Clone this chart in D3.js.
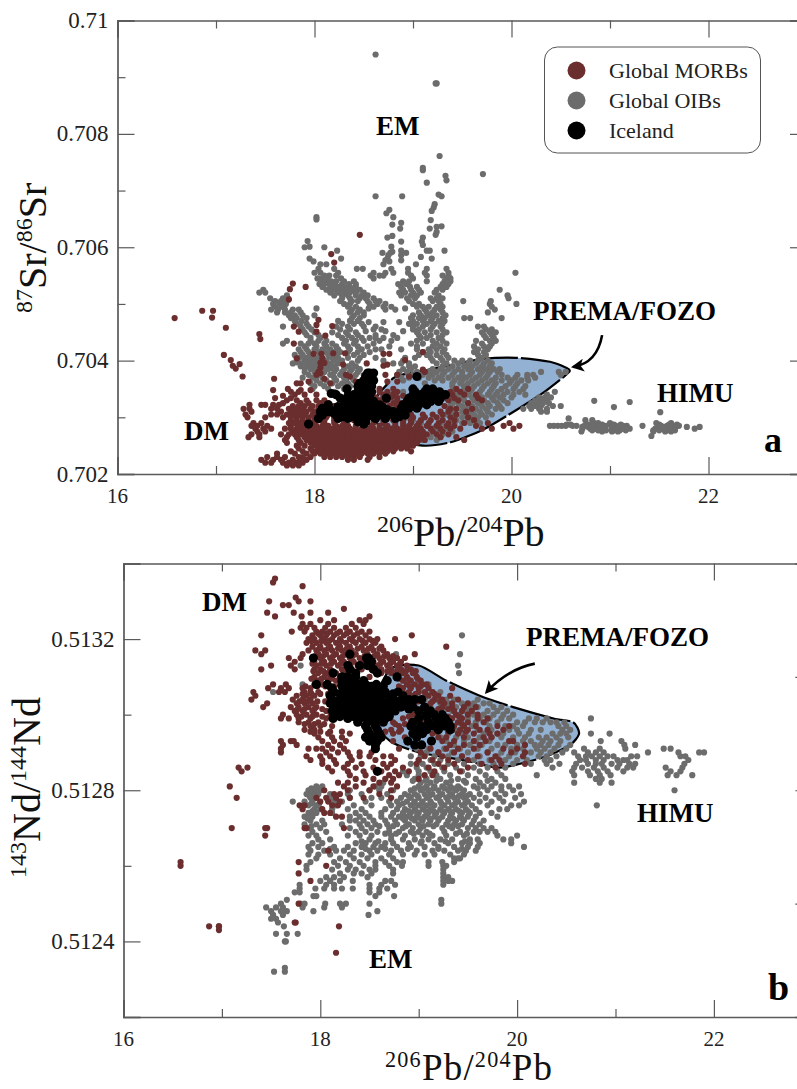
<!DOCTYPE html>
<html>
<head>
<meta charset="utf-8">
<script src="https://cdn.jsdelivr.net/npm/d3@7"></script>
<style>
  html, body { margin: 0; padding: 0; background: #fff; }
  svg { display: block; font-family: "Liberation Serif", serif; }
  .tag { font-weight: bold; fill: #000; }
</style>
</head>
<body>
<svg id="chart" width="797" height="1089"></svg>
<script>
// values, one row per y value: [y, x, x, x ...]
const oibSr = [
[.7094,18.62],[.70889,19.23,19.24],[.70761,19.27],[.7074,19.1],[.70736,19.1],[.70729,19.71],[.70726,19.33],[.70718,19.34],[.70714,19.14],
[.70693,19.26],[.7069,18.62,18.89,19.29],[.70676,19.22],[.7067,19.21],[.70666,18.76],[.70664,19.19],[.7066,18.73],[.70653,18.8,18.02],[.70649,18.02],[.70648,19.18],[.70643,18.88],[.7064,18.79],
[.70637,19.29],[.70636,19.24],[.70633,18.87,19.17],[.70627,19.24],[.70622,19.23],[.7062,18.79],[.70617,18.74,19.1],[.70611,17.93],[.7061,18.88,19.09],[.70604,19.1],
[.70601,18.78,17.95],[.706,17.9,18.1],[.70594,18.23,18.88,19.14,19.17,19.32],[.70592,18.79],[.7059,18.69,18.93,18.77],[.70586,18.88,18.75],[.70583,19.08],[.7058,17.95,18.27,19.19,18.74],[.70577,18.88,18.72],[.70575,17.99,18.76],[.7057,18.06,18.12,19.03,18.7],
[.70562,18.04,18.2,18.43,18.49,18.78,18.95,19.14,19.34],
[.70555,18,18.06,18.24,18.6,18.72,18.8,18.95,19.12,19.36,20.04],
[.7055,18.1,18.15,18.22,18.57,18.66,18.7,18.98,19.14,19.3,19.36],
[.70545,18.03,18.08,18.13,18.27,18.6,19,19.34,19.38],
[.7054,18.07,18.12,18.17,18.22,18.3,18.4,18.9,18.96,19.14,19.32,19.38],
[.70535,18.05,18.1,18.15,18.2,18.28,18.35,18.42,18.85,18.93,19.3,19.36],
[.7053,18.08,18.16,18.24,18.3,18.36,18.42,18.88,18.97,19.04,19.28,19.34],
[.70525,17.48,18.12,18.2,18.28,18.34,18.4,18.46,18.9,18.98,19.06,19.24,19.3,19.88],
[.7052,17.44,17.5,18.16,18.24,18.3,18.36,18.42,18.5,18.86,18.92,19,19.08,19.22],
[.70515,17.72,18.2,18.28,18.34,18.42,18.48,18.54,18.88,18.98,19.04,19.26,19.96],
[.7051,17.55,17.68,17.73,18.28,18.36,18.46,18.52,18.6,18.94,19.02,19.18,19.24,19.3,19.97],
[.70505,17.6,17.66,17.72,18.26,18.38,18.44,18.54,18.62,18.66,18.96,19.2,19.26,19.79,19.51],
[.705,17.58,17.65,17.71,18.3,18.36,18.56,18.64,18.72,19,19.06,19.28,19.78,20.05],
[.70495,17.6,17.67,18.34,18.42,18.6,18.7,18.78,19.04,19.1,19.16,19.24,19.3,19.8],
[.7049,17.56,17.63,17.7,17.78,17.84,18.38,18.46,18.72,18.82,19.12,19.22,19.28,19.83],
[.70485,17.62,17.7,17.76,17.86,18.36,18.44,18.5,19.06,19.14,19.2,19.3,19.76],
[.7048,17.74,17.8,17.88,18,18.4,18.5,19,19.08,19.16,19.24,19.33],
[.70475,17.76,17.82,17.92,18.38,18.46,18.98,19.06,19.12,19.2,19.3,19.52,19.58,19.9],
[.7047,17.8,17.87,18.24,18.36,18.44,19,19.1,19.18,19.26,19.32],
[.70465,17.82,17.92,18.28,18.4,18.48,18.96,19.04,19.14,19.22,19.3],
[.7046,17.68,17.86,17.94,18.22,18.34,18.5,18.62,19,19.1,19.2,19.28,19.66,19.72],
[.70455,17.88,17.97,18.26,18.36,18.6,18.68,19,19.06,19.18,19.3,19.74,19.8],
[.7045,17.9,18,18.18,18.32,18.42,19.04,19.12,19.24,19.34,19.7,19.78,19.84],
[.70445,17.92,18.04,18.24,18.34,18.44,18.62,18.8,19.06,19.18,19.3,19.72,19.8],
[.7044,17.96,18.06,18.28,18.38,18.48,18.56,18.62,18.7,18.84,19.08,19.14,19.26,19.74,19.82],
[.70435,17.72,17.96,18.04,18.12,18.32,18.42,18.5,18.66,18.78,19.04,19.2,19.3,19.64,19.78,19.84],
[.7043,17.68,17.86,17.94,18,18.1,18.18,18.3,18.4,18.6,18.98,19.1,19.24,19.34,19.7,19.8],
[.70425,17.9,18.02,18.12,18.22,18.34,18.44,18.54,18.76,19.04,19.2,19.28,19.62,19.72,19.78],
[.7042,17.84,17.92,18,18.08,18.16,18.24,18.36,18.48,18.62,18.68,18.88,19.04,19.16,19.24,19.32,19.66,19.76],
[.70415,17.86,17.94,18.04,18.12,18.2,18.26,18.34,18.44,18.56,19.1,19.18,19.3,19.62,19.72],
[.7041,17.8,17.88,17.96,18.06,18.14,18.22,18.4,18.5,19.06,19.14,19.24,19.34,19.66,19.74],
[.70405,17.84,17.92,18,18.08,18.18,18.24,18.34,18.46,18.62,18.92,19.02,19.18,19.28,19.36,19.7],
[.704,17.82,17.9,17.96,18.04,18.12,18.2,18.28,18.44,18.7,18.9,19.2,19.3,19.42,19.5,19.58,19.66,19.76],
[.70395,17.78,17.86,17.94,18,18.08,18.16,18.24,18.38,18.8,18.88,18.96,19.24,19.34,19.46,19.56,19.64,19.72,19.8],
[.7039,17.86,17.92,17.98,18.06,18.14,18.2,18.34,18.42,18.96,19.02,19.3,19.4,19.52,19.6,19.7,19.78],
[.70385,17.96,18.04,18.14,18.22,18.3,18.38,18.46,18.9,18.98,19.2,19.28,19.36,19.46,19.56,19.66,19.74,19.82,19.88],
[.7038,17.9,18,18.1,18.2,18.28,18.36,18.44,18.86,18.94,19.04,19.16,19.24,19.32,19.42,19.5,19.6,19.7,19.78,19.86,20.3,20.55,20.48],
[.70375,17.94,18.04,18.16,18.26,18.34,18.42,18.5,18.84,19,19.1,19.2,19.3,19.4,19.5,19.58,19.68,19.76,19.9,20.06,20.16,20.22,20.5],
[.7037,17.88,17.98,18.08,18.2,18.3,18.38,18.88,18.96,19.06,19.16,19.26,19.36,19.46,19.54,19.64,19.74,19.84,19.96,20.04,20.16,20.24],
[.70365,18.02,18.12,18.22,18.32,18.4,18.9,19.22,19.3,19.42,19.5,19.6,19.7,19.8,19.9,20,20.1,20.17],
[.7036,17.96,18.06,18.18,18.28,18.34,19.12,19.4,19.48,19.56,19.66,19.76,19.84,19.98,20.06],
[.70355,18,18.1,18.24,18.36,19.4,19.52,19.62,19.72,19.82,19.94,20.04,20.14],
[.7035,17.98,18.14,18.3,19.52,19.6,19.7,19.8,19.9,20.02,20.12],
[.70345,18.2,18.34,18.9,19.42,19.5,19.58,19.68,19.78,19.86,19.96,20.08,20.44],
[.7034,18.36,18.78,19.36,19.46,19.56,19.66,19.76,19.84,19.92,20.02,20.14,20.36],
[.70335,18.84,19.4,19.5,19.6,19.7,19.8,19.88,20,20.28,20.34,20.4],
[.7033,19.42,19.52,19.62,19.72,19.82,19.92,20.24,20.3,20.36],
[.70325,19,19.4,19.46,19.56,19.66,19.76,19.86,19.96,20.2,20.26,20.32,20.38],
[.7032,18.8,19.38,19.5,19.6,19.7,19.78,19.88,20.18,20.24,20.3,20.42,20.5],
[.70329,20.84],[.70327,21.2],[.70318,21.04],[.70309,21.51],
[.70315,18.9,19.36,19.44,19.54,19.64,19.74,19.84,19.9,20.12,20.2,20.28,20.36],
[.7031,18.7,19.4,19.5,19.58,19.68,19.76,20.3,20.36],
[.70305,18.86,19.34,19.44,19.54,19.62,19.7,19.8],
[.703,18.8,18.94,19.4,19.5,19.6,19.66,19.74],[.70295,19,19.3,19.44,19.56,19.64,20.75,20.82],
[.70298,20.58],[.7029,19.08,19.28,19.42,19.5,19.58,19.68,20.84,20.88,21.0,21.47,21.62],
[.70287,20.56,20.6,20.78,20.86,20.92,21.02,21.04,21.11,21.5,21.6,21.68],
[.70285,20.39,20.43,20.47,20.51,20.55,20.62,20.66,20.74,20.8,20.84,20.9,20.96,21.06,21.13,21.17,21.33,21.52,21.58,21.64,21.7],
[.70283,20.72,20.78,20.88,20.94,21.02,21.1,21.5,21.56,21.62,21.78,21.91],
[.7028,20.72,20.8,20.86,20.92,21.02,21.08,21.14,21.2,21.46,21.54,21.6,21.66,21.86],
[.70277,20.82,20.88,20.96,21.04,21.1,21.16,21.5,21.58,21.66,21.44],
[.70275,20.71,20.92,21.02,21.08,21.44,21.56,21.62],[.70267,21.42],
[.70285,19.26,19.36],[.7028,19.2,19.34],[.70275,19.24,19.4],[.7027,19.12,19.3],[.70265,19.18,19.04],[.7026,19.1,19.24],[.70255,19.0,18.92],[.7025,18.84],
[.70407,17.88,17.97,18.05,18.16],[.70397,17.82,17.9,18.03,18.12],[.70387,17.9,18.01,18.1,18.18],[.70492,18.02,18.55,18.92],[.70468,18.55,18.7,18.86],[.70452,18.52,18.72,18.9]
];
const morbSr = [
[.70622,18.46],[.70588,18.17],[.70573,18.2],[.70536,17.78],[.7053,17.91],[.70526,17.75],[.70508,17.74],
[.70488,16.86,16.97],[.70476,16.96],[.70475,16.58],[.70472,18.04],[.70463,18.02],[.70461,18.18],[.7046,17.79],[.70458,17.1],[.70451,17.84,18.02],[.70447,17.44],[.70444,18.11],[.70438,17.45],
[.7043,17.79],[.70415,19.1],[.70413,18.31,18.19],[.70412,17.99,18.07,18.7,18.76],[.7041,17.08],[.70404,17.82,18.08],[.70401,17.15,18.92],[.70396,18.06,18.1],[.70395,18.53],[.70394,17.24],[.70393,18.29,18.74],[.70391,17.17,18.7],[.70388,18.06],[.70386,17.2],[.70384,19.1],[.7038,19.12,18.04],
[.70378,18.06],[.70375,18.02,18.32,18.72,18.84],[.70372,17.27,18.36,18.96],[.70368,17.59,18.1],[.70363,17.94,18.42,18.74,18.84],[.7036,17.82,18.16,17.86],[.7035,17.73,18.66,18.8,19.44,19.56],[.70348,17.58,17.86,17.96],
[.70345,17.76,17.84,18.84,19.38,19.48],[.7034,17.8,17.9,18.02,19.4,19.52,19.64],[.70338,17.68,18.9],[.70334,17.6,17.76,18.84,19.34,19.42,19.66],
[.7033,17.72,17.82,17.92,18.02,18.94,19.36,19.46,19.7],[.70325,17.68,17.86,17.94,19.56],[.70322,17.34,17.46,17.5,17.58,17.64],
[.7032,17.78,17.84,17.9,17.98,18.04,19.04,19.32],[.70315,17.28,17.34,17.56,17.62,17.74,17.82,17.88,17.96,19.38,19.44,19.6],[.7031,17.36,17.66,17.76,17.8,17.86,17.92,18.0,19.28,19.36,19.54],
[.70305,17.3,17.56,17.62,17.72,17.78,17.84,17.9,17.98,18.04,19.2,19.3,19.44],[.703,17.32,17.5,17.68,17.76,17.82,17.88,17.94,18,18.06,18.9,19,19.12,19.24,19.38,19.56],
[.70295,17.76,17.82,17.88,17.94,18,18.2,18.9,18.98,19.08,19.18,19.3,19.42,19.62],
[.7029,17.38,17.46,17.74,17.8,17.86,17.92,18,18.1,18.2,18.3,18.44,18.6,18.7,18.82,18.9,18.98,19.06,19.16,19.26,19.36,19.52,19.76,19.98],
[.70285,17.36,17.42,17.52,17.76,17.84,17.9,17.96,18.02,18.08,18.14,18.22,18.28,18.34,18.42,18.5,18.58,18.66,18.74,18.82,18.9,18.96,19.04,19.14,19.24,19.34,19.42,19.64,19.92,20.08],
[.7028,17.4,17.48,17.56,17.7,17.76,17.82,17.88,17.94,18,18.06,18.12,18.18,18.24,18.3,18.36,18.42,18.48,18.54,18.6,18.66,18.72,18.78,18.84,18.9,18.96,19.02,19.08,19.18,19.28,19.38,19.48,19.7,19.8,20.02],
[.70275,17.42,17.5,17.78,17.84,17.9,17.96,18.02,18.08,18.14,18.2,18.26,18.32,18.38,18.44,18.5,18.56,18.62,18.68,18.74,18.8,18.86,18.92,18.98,19.04,19.1,19.2,19.3],
[.7027,17.36,17.44,17.66,17.74,17.8,17.86,17.92,17.98,18.04,18.1,18.16,18.22,18.28,18.34,18.4,18.46,18.52,18.58,18.64,18.7,18.76,18.82,18.88,18.94,19,19.06,19.14,19.24,19.36],
[.70265,17.33,17.44,17.72,17.82,17.9,17.96,18.02,18.08,18.14,18.2,18.26,18.32,18.38,18.44,18.5,18.56,18.62,18.68,18.74,18.8,18.86,18.92,18.98,19.04,19.1,19.28,19.44],
[.7026,17.7,17.84,17.92,17.98,18.04,18.1,18.16,18.22,18.28,18.34,18.4,18.46,18.52,18.58,18.64,18.7,18.76,18.82,18.88,18.94,19,19.06,19.12,19.52],
[.70255,17.72,17.86,17.96,18.02,18.08,18.14,18.2,18.26,18.32,18.38,18.44,18.5,18.56,18.62,18.68,18.74,18.8,18.86,18.92,18.98,19.04],
[.7025,17.82,17.9,18,18.06,18.12,18.18,18.24,18.3,18.36,18.42,18.48,18.54,18.6,18.66,18.72,18.78,18.84,18.9,18.96,19],
[.70245,17.84,17.96,18.04,18.1,18.16,18.22,18.28,18.34,18.4,18.46,18.52,18.58,18.64,18.7,18.76,18.82,18.88,18.94],
[.7024,17.76,17.88,17.98,18.02,18.08,18.14,18.2,18.26,18.32,18.38,18.44,18.5,18.56,18.62,18.68,18.74,18.8,18.98],
[.70236,17.62,17.8,17.92,18.0,18.06,18.12,18.18,18.24,18.3,18.36,18.42,18.48,18.54,18.6,18.66,18.72],
[.7023,17.52,17.62,17.7,17.84,17.88,17.96,18.1,18.16,18.22,18.28,18.34,18.4,18.46,18.56,18.66],
[.70225,17.46,17.58,17.66,17.78,17.86,17.92,18.34,18.4,18.54],[.7022,17.5,17.56,17.68,17.74,17.82,17.88],[.70215,17.72,17.78,17.84],
[.70345,18.66,18.74],[.7034,18.7,18.8],[.70335,18.62,18.7,18.78],[.7033,18.1,18.66,18.74,18.84],[.70325,18.06,18.14,18.7,18.8,18.88],[.7032,18.1,18.2,18.7,18.76,18.84],[.70315,18.04,18.22,18.76],[.7031,18.06,18.2,18.54],[.70305,18.14,18.5,18.98,19.1],[.703,18.12,18.2,18.6,18.7,18.8],[.70295,18.06,18.1,18.3,18.4,18.5,18.6,18.7,18.8]
];
const iceSr = [
[.70378,18.56,18.54,18.6],[.70372,18.52,18.58,19.04],[.70365,18.5,18.56,18.6],[.7036,18.46,18.52,18.58],[.70355,18.5,18.44,18.58],
[.7035,18.33,18.46,18.52,19,19.14,19.2],[.70345,18.44,18.5,18.58,19.02,19.12,19.2,19.27],[.70342,18.17],
[.7034,18.22,18.4,18.46,18.54,19,19.08,19.16,19.24,19.33],[.70334,18.26,18.38,18.44,18.52,18.73,18.96,19.04,19.12,19.2,19.28],
[.70328,18.32,18.4,18.48,18.6,18.94,19.02,19.1,19.18,19.26],[.70322,18.14,18.3,18.38,18.46,18.54,18.66,18.9,18.98,19.06,19.14],
[.70316,18.08,18.12,18.28,18.36,18.44,18.52,18.62,18.7,18.88,18.96,19.04],[.7031,18.06,18.14,18.26,18.34,18.42,18.62,18.7,18.8,18.88],
[.70304,18.08,18.22,18.3,18.4,18.56,18.66,18.74,18.82,18.92],[.70298,18.04,18.24,18.34,18.44,18.52,18.62,18.72,18.82],[.70292,18.44,18.52],[.70288,17.94,18.5],
[.70338,18.34,18.48,18.56],[.70325,18.36,18.44,18.52,18.6],[.70319,18.24,18.34,18.42,18.5,18.58,18.68],[.70313,18.16,18.24,18.32,18.4,18.48,18.56,18.66,18.74],[.70307,18.2,18.3,18.38,18.46,18.6,18.7,18.78],[.70301,18.3,18.4,18.5,18.6,18.72,18.86]
];
const oibNd = [
[.51321,19.44],[.51316,19.42,18.77],[.51315,18.71],[.51313,19.4,17.8],[.51312,18.79],[.51311,19.41],[.51306,17.52],[.51308,17.82],
[.51308,19.0,19.1],[.51306,19.14,19.22],[.51304,19.06,19.18,19.28,19.36,19.6],[.51303,19.22,19.3,19.44,19.56,19.66,19.72],[.51302,19.12,19.26,19.38,19.52,19.6,19.76,19.84],
[.51301,19.16,19.34,19.48,19.7,19.8,19.9],[.513,19.06,19.24,19.42,19.56,19.66,19.76,19.86,19.96],[.51299,19.12,19.32,19.5,19.62,19.72,19.84,19.92,20.12,20.2,20.3,20.75],
[.51298,19.2,19.4,19.58,19.68,19.8,20,20.08,20.18,20.26,20.34,20.4,20.48],[.51297,19.1,19.28,19.46,19.54,19.72,19.88,19.96,20.06,20.42,20.5],
[.51296,19.18,19.36,19.6,19.74,19.92,20,20.14,20.24,20.46,20.54],[.51295,19.3,19.44,19.66,19.8,19.86,20.02,20.12,20.36,20.44,20.5,20.75,20.94],
[.51294,19.22,19.38,19.5,19.62,19.74,19.84,19.96,20.08,20.22,20.3,20.4,20.52],[.51293,19.12,19.28,19.46,19.58,19.72,19.92,20.06,20.14,20.26,20.34,20.44,20.85,21.06],
[.51292,19.36,19.52,19.64,19.8,19.88,20,20.18,20.24,20.32,20.42,20.54,21.09,21.2],[.51291,18.98,19.1,19.26,19.42,19.6,19.74,19.94,20.06,20.2,20.28,20.38,20.5,20.84,20.68,21.1,21.49,21.56],
[.5129,19.08,19.2,19.34,19.5,19.7,19.84,19.98,20.14,20.24,20.34,20.46,20.58,20.72,20.8,20.88,21.33,21.64,21.9,21.85],
[.51289,18.92,19.02,19.16,19.3,19.44,19.62,19.8,19.92,20.06,20.22,20.3,20.4,20.62,20.7,20.76,20.84,20.92,20.98,21.16,21.22,21.66,21.71],
[.51288,19,19.12,19.22,19.4,19.56,19.72,19.88,20,20.1,20.28,20.34,20.64,20.7,20.8,20.88,21.02,21.08,21.12,21.74],
[.51287,18.92,19.04,19.16,19.3,19.46,19.62,19.76,19.96,20.14,20.3,20.43,20.6,20.72,20.8,20.86,20.96,21.04,21.14,21.2,21.7],
[.51286,18.98,19.08,19.24,19.38,19.56,19.7,19.88,20.36,20.58,20.66,20.78,20.88,21.02,21.12,21.18,21.51,21.68],
[.51285,18.84,19,19.12,19.26,19.44,19.62,19.8,20.56,20.72,20.82,20.92,21.08,21.56,21.66],
[.51284,18.88,19,19.18,19.32,19.5,19.68,19.84,20.2,20.58,20.74,20.84,20.95,21.53,21.62,21.78],
[.51283,18.96,19.08,19.22,19.4,19.58,19.74,19.88,20.8,20.86],[.51282,18.64,19.02,19.12,19.28,19.48,19.62,19.78,20.58,20.84,20.96],[.5128,21.6],
[.51281,17.96,18.02,18.56,18.62,19.0,19.08,19.16,19.24,19.32,19.4,19.56,19.66,19.74,19.84,19.92,20.02],[.5128,17.88,17.94,18.0,18.3,18.5,18.6,18.74,18.92,19.02,19.1,19.2,19.3,19.38,19.46,19.7,19.84,19.96],
[.51279,17.86,17.92,17.98,18.1,18.28,18.42,18.68,18.86,18.96,19.06,19.14,19.24,19.34,19.44,19.52,19.62,19.78,19.88,20.04],[.51278,17.9,17.96,18.12,18.3,18.52,18.62,18.82,18.92,19,19.08,19.18,19.28,19.36,19.46,19.56,19.68,19.82,19.98],
[.51277,17.72,17.84,17.92,18.14,18.22,18.46,18.7,18.78,18.88,18.96,19.04,19.12,19.22,19.3,19.4,19.5,19.62,19.74,19.86,20.07],[.51276,17.88,17.96,18.16,18.34,18.52,18.72,18.8,18.92,19,19.08,19.16,19.26,19.34,19.44,19.54,19.7,19.94,20.02,20.81],
[.51275,17.94,18.0,18.12,18.28,18.42,18.66,18.78,18.86,18.96,19.04,19.12,19.22,19.3,19.38,19.48,19.58,19.82,19.9],[.51274,17.88,17.96,18.12,18.36,18.46,18.62,18.74,18.84,18.92,19,19.1,19.18,19.26,19.34,19.44,19.52,19.62,19.74],
[.51273,17.84,17.92,18.3,18.4,18.5,18.62,18.72,18.8,18.88,18.98,19.06,19.16,19.24,19.32,19.42,19.5,19.58,19.8],[.51272,17.9,18.02,18.3,18.36,18.44,18.54,18.66,18.76,18.86,18.96,19.04,19.12,19.2,19.3,19.38,19.46,19.56,19.66],
[.51271,17.84,17.96,18.04,18.22,18.4,18.48,18.56,18.68,18.78,18.9,19,19.1,19.18,19.28,19.36,19.44,19.54,19.62],[.5127,17.86,17.9,18,18.3,18.42,18.52,18.7,18.84,18.94,19.02,19.24,19.34,19.5,19.58,19.66,19.74],
[.51269,17.92,18.06,18.36,18.46,18.58,18.7,18.8,18.92,19,19.08,19.26,19.42,19.56,19.62,19.7,19.78],[.51268,17.88,17.96,18.28,18.4,18.52,18.72,18.86,19.04,19.14,19.28,19.46,19.8,20.0],
[.51267,17.98,18.1,18.5,18.72,18.84,18.96,19.1,19.22,19.34,19.52,19.6,19.86,19.94],[.51266,17.92,18.02,18.36,18.46,18.56,18.66,18.74,18.9,19.02,19.16,19.3,19.44,19.52,19.62,19.94],
[.51265,17.88,17.98,18.14,18.28,18.42,18.54,18.62,18.78,18.92,19.06,19.2,19.36,19.5,19.6,20.07],[.51264,17.9,18.04,18.16,18.24,18.34,18.5,18.58,18.72,18.82,18.98,19.14,19.26,19.4,19.48,19.58],
[.51263,17.88,17.98,18.1,18.3,18.42,18.52,18.7,18.84,18.96,19.06,19.16,19.32,19.46],[.51262,17.96,18.2,18.34,18.48,18.62,18.74,19.36,19.4,19.42],[.51261,17.9,18.14,18.26,18.4,18.56,18.66,18.78,18.84,19.1,19.24,19.36],
[.5126,17.86,18.18,18.3,18.44,18.56,18.7,18.83,19.1,19.25,19.28],[.51259,17.86,18.12,18.28,18.36,18.5,18.56,18.74,19.25],[.51258,18.2,18.34,18.42,18.52,18.74,19.25],
[.51257,18.06,18.14,18.24,18.48,19.25,19.3],[.51256,18.0,18.1,18.2,18.33,18.66,18.72,19.25,19.3,19.34,18.1],[.51255,17.79,18.06,18.14,18.5,18.62,18.76,19.25],[.51254,17.79,17.95,18.04,18.14,18.22,18.33,18.5,18.6,18.68],
[.51253,17.74,17.79,18.5,18.6],[.51252,17.93,17.96,18.56,18.75],[.51251,17.66,19.23],[.5125,17.6,17.8,17.84,18.05,18.2,18.26,18.5,19.23],[.51249,17.45,17.55,17.62,17.82,18.04,18.22],[.51248,17.5,17.6,17.66,17.93,18.58],
[.51247,17.52,17.62,18.49],[.51246,17.5,17.55],[.51245,17.57],[.51244,17.63],[.51242,17.55,17.66,17.77],[.5124,17.64,17.65],[.51233,17.64],[.51232,17.53,17.64],
[.512825,18.94,19.07,19.18,19.33,19.46,19.7],[.512805,17.91,17.99,18.96,19.05,19.15,19.26,19.35,19.42,19.6],[.512785,17.89,17.95,18.9,18.99,19.11,19.21,19.31,19.41,19.49],[.512765,17.91,17.99,18.84,18.95,19.03,19.13,19.23,19.37,19.47],
[.512745,17.92,18.9,18.97,19.07,19.15,19.24,19.32,19.41,19.5],[.512725,17.87,18.84,18.93,19.02,19.11,19.21,19.35,19.44],[.512705,17.91,18.6,18.74,18.87,19.05,19.15,19.31,19.4],[.512685,18.66,18.77,18.95,19.11,19.38,19.49],[.512665,18.42,18.59,19.03,19.27,19.47],[.512645,18.1,18.46,18.66,18.89,19.2,19.44]
];
const morbNd = [
[.51336,17.54],[.51335,17.52],[.51334,17.82],[.51331,17.75],[.5133,17.48,17.78,17.9],[.51329,17.62,17.68],[.51328,18.24],[.51327,17.46,17.73,17.9,18.08],[.51326,17.54,17.81,18.5],[.51325,18.0,18.14,18.4,18.46],
[.51324,17.82,17.9,18.08,18.32,18.44],[.51323,17.8,17.86,17.94,18.05,18.14,18.26,18.36],[.51322,17.71,17.84,17.96,18.02,18.1,18.2,18.3,18.42,18.5],[.51321,17.4,17.92,18,18.06,18.14,18.24,18.34,18.46,18.93],[.5132,17.88,17.94,18.04,18.12,18.2,18.3,18.4,18.5,18.58,18.76],
[.51319,17.86,17.96,18.06,18.16,18.26,18.36,18.46,18.56],[.51318,17.92,18,18.1,18.2,18.3,18.42,18.52,18.62,19.28],[.51317,17.34,17.44,17.88,17.96,18.04,18.12,18.22,18.32,18.44,18.54,18.64],[.51316,17.4,17.82,17.98,18.06,18.16,18.26,18.36,18.48,18.58,18.68,18.96],
[.51315,17.68,17.8,18,18.1,18.2,18.3,18.4,18.5,18.6,18.7,18.78,18.86],[.51314,17.74,17.94,18.04,18.14,18.24,18.34,18.44,18.54,18.64,18.74,18.82],[.51313,17.5,17.7,17.96,18.06,18.18,18.28,18.38,18.48,18.58,18.68,18.78,18.88],
[.51312,17.4,17.74,17.94,18,18.1,18.22,18.32,18.42,18.52,18.62,18.72,18.82,18.92],[.51311,17.98,18.06,18.16,18.26,18.36,18.62,18.72,18.84,18.94],[.5131,17.94,18.04,18.1,18.2,18.3,18.5,18.88,18.98],
[.51309,17.98,18.08,18.16,18.26,18.84,18.92,19.02],[.51308,17.52,17.65,17.94,18.02,18.2,18.88,18.96,19.04,19.08],[.51307,17.47,17.6,17.68,17.82,17.9,18.1,18.84,18.92,19.0,19.1,19.34],
[.51306,17.32,17.58,17.64,17.84,17.9,17.98,18.9,19.0,19.06,19.14],[.51305,17.34,17.76,17.86,17.94,18.84,18.94,19.1,19.2,19.32],[.51304,17.3,17.72,17.82,17.9,18.96,19.16,19.24,19.4],
[.51303,17.46,17.76,17.84,17.92,18.9,19.12,19.26,19.34,19.5],[.51302,17.42,17.7,17.78,17.88,17.96,18.86,18.96,19.24,19.34,19.46,19.58],[.51301,17.74,17.82,17.92,18.06,19,19.1,19.36,19.44,19.54],
[.513,17.62,17.76,17.86,17.96,18.94,19.06,19.38,19.5,19.6],[.51299,17.6,17.68,17.78,17.9,18.06,18.84,19.0,19.34,19.44,19.6,19.7],[.51298,17.78,17.88,17.98,18.74,18.92,19.06,19.4,19.5,19.66],
[.51297,17.9,18.0,18.12,18.8,19.36,19.46,19.58,19.8,19.92],[.51296,17.84,17.94,18.72,18.82,19.34,19.42,19.5,19.62,19.7,19.86],[.51295,17.94,18.08,18.3,18.74,19.14,19.4,19.56,19.72,19.8],[.51294,17.98,18.12,18.22,18.86,19.2,19.28,19.46,19.66,19.74],
[.51293,17.6,17.73,17.7,18.02,18.14,18.26,18.74,19.24,19.36,19.56,19.68,19.92,19.96],[.51292,17.62,17.76,18.08,18.2,19.32,19.46,19.62,20.08],[.51291,17.6,17.88,17.96,18.02,18.12,18.24,18.8,19.12,19.28,19.4,19.56,19.86,20.0],
[.5129,17.6,18.06,18.18,18.28,18.4,18.52,19.02,19.2,19.36,19.7,19.94,20.08],[.51289,17.86,18.0,18.1,18.3,18.4,18.5,18.64,18.72,19.06,19.24,19.44,19.6,19.78,20.06],[.51288,17.9,18.02,18.14,18.32,18.56,18.76,19.0,19.14,19.3,19.5,19.74,19.82],
[.51287,18.02,18.16,18.28,18.42,18.64,18.72,18.98,19.2,19.36,19.64,19.84,20.08],[.51286,17.17,17.26,18.08,18.24,18.36,18.54,18.68,18.84,19.1,19.26,19.5,19.78],[.51285,17.2,18.12,18.28,18.44,18.62,18.76,18.9,19.16,19.42],
[.51284,18.3,18.46,18.7,18.8,19.06,19.14],[.51283,18.36,18.54,18.66,18.74,19],[.51282,18.18,18.28,18.44,18.6,18.72],[.51281,17.08,18.24,18.36,18.54,18.78],[.5128,18.72,18.5,18.28,18.04],[.51279,18.2,18.14,18.6],[.51278,17.15,17.96,18.3,18.44,18.72,18.16,18.06],
[.51277,18.08,18.0,18.2],[.51276,17.79,17.84,18.12,18.18],[.51275,17.82,18.02],[.51274,18.04,18.1],[.51273,18.16,18.22],[.5127,17.1,17.46,17.44,17.84,17.86,18.24],[.51268,17.44],[.51264,18.08],[.51261,16.58,17.78],[.5126,16.58,18.06],[.51258,17.78],[.51256,17.9],[.5125,17.78],[.51245,17.75,17.74],[.51244,16.87,16.97,16.97,18.19],[.51243,16.97],[.51237,18.16],
[.513215,17.98,18.07,18.17,18.27,18.38],[.513195,17.91,18.01,18.09,18.21,18.33,18.43,18.53],[.513175,17.99,18.08,18.18,18.27,18.38,18.49,18.6],[.513155,17.95,18.03,18.13,18.23,18.33,18.45,18.55,18.65,18.74],
[.513135,17.92,18.01,18.11,18.21,18.31,18.41,18.51,18.61,18.71,18.81],[.513115,17.93,18.03,18.12,18.24,18.58,18.68,18.78,18.87,18.97],[.513095,17.91,18.01,18.12,18.22,18.8,18.89,18.99],
[.513075,17.85,17.97,18.05,18.14,18.8,18.91,19.02],[.513055,17.82,17.91,18.0,18.08,18.86,18.97,19.07,19.16],[.513035,17.79,17.87,17.97,18.05,18.88,18.99,19.14,19.22],[.513015,17.77,17.84,17.94,18.02,18.98,19.08,19.2,19.3],
[.512995,17.81,17.92,18.02,18.1,18.9,19.0,19.12,19.3,19.41],[.512975,17.84,17.94,18.04,18.76,18.86,19.2,19.32,19.44],[.512955,17.9,18.0,18.1,18.22,18.66,18.8,19.18,19.3,19.48]
];
const iceNd = [
[.51316,18.3],[.51315,17.93,18.49,18.47],[.51314,18.52],[.51313,18.4,18.48,18.28],[.51312,18.3,18.54],[.51311,18.13,18.36,18.58],[.5131,18.28,18.22,18.36,18.78],[.51309,18.68,18.22,18.34,18.44],
[.51308,17.96,18.07,18.3,18.38,18.46,18.57],[.51307,18.12,18.26,18.34,18.42,18.5,18.6],[.51306,18.14,18.3,18.38,18.46,18.54,18.66,18.79],[.51305,18.1,18.24,18.34,18.42,18.5,18.58,18.7,18.84],[.51304,18.12,18.2,18.28,18.38,18.46,18.54,18.62,18.74,18.9,19.03,18.96],
[.51303,18.1,18.24,18.32,18.42,18.5,18.58,18.66,18.78,18.86],[.51302,18.14,18.28,18.36,18.46,18.54,18.62,18.7,18.82,18.94,19.06],[.51301,18.12,18.22,18.34,18.44,18.52,18.6,18.68,18.76,19,19.12],[.513,18.14,18.26,18.38,18.46,18.54,18.62,18.7,19.08,19.16,19.24],
[.51299,18.13,18.28,18.4,18.5,18.58,18.66,19.0,19.18,19.27],[.51298,18.38,18.48,18.56,18.64,18.94,19.1,19.2,19.3],[.51297,18.46,18.56,18.92,19.02,19.14,19.26,19.32],[.51296,18.48,18.58,18.98,19.08,19.2,19.32],
[.51295,18.5,18.6,18.94,19.04],[.51294,18.46,18.54,18.62,18.98],[.51293,18.5,18.58,18.89,19.13],[.51292,18.56,18.96,19.03],[.51291,18.56],[.51285,18.58],
[.513075,18.22,18.34,18.52,18.64],[.513055,18.2,18.28,18.36,18.62,18.74],[.513035,18.18,18.28,18.7,18.8],[.513015,18.18,18.3,18.4,18.74,18.9],[.512995,18.2,18.34,18.44,18.7,19.08]
];

// ellipse outlines and arrows in data units
const fieldSr = [[18.56,.70313],[18.8,.70369],[19.04,.7038],[19.38,.70392],[19.71,.70403],[20.05,.70405],[20.39,.70398],[20.56,.70387],[20.59,.70381],[20.52,.7037],[20.32,.70343],[20.05,.70313],[19.71,.70278],[19.38,.70256],[19.1,.7025],[18.8,.70262]];
const fieldNd = [[18.5,.513],[18.71,.51312],[19,.51313],[19.28,.51309],[19.62,.51305],[19.96,.51302],[20.37,.51299],[20.57,.51298],[20.63,.51295],[20.54,.51292],[20.3,.51289],[20.03,.51287],[19.79,.51286],[19.45,.51288],[19.01,.5129],[18.71,.51293]];
const arrowSr = [[20.92,.70445],[20.87,.70396],[20.63,.70389]];
const arrowNd = [[20.18,.513135],[19.9,.51312],[19.69,.51306]];

const xMajor = [16, 18, 20, 22];
const xMinor = [17, 19, 21, 23];
const srMajor = [0.702, 0.704, 0.706, 0.708, 0.71];
const srMinor = [0.703, 0.705, 0.707, 0.709];
const ndMajor = [0.5122, 0.5124, 0.5128, 0.5132, 0.5134];
const ndMinor = [0.5126, 0.513];
const ndRight = [0.5125, 0.5128, 0.5131];
const ndLabels = [0.5124, 0.5128, 0.5132];
const legendNames = ["Global MORBs", "Global OIBs", "Iceland"];

const MORB = "#6b2e2e", OIB = "#6c6c6c", ICE = "#000", FIELD = "#93b2d3", AXIS = "#5a5a5a";

const svg = d3.select("#chart");
const toPoints = rows => rows.flatMap(([y, ...xs]) => xs.map(x => [x, y]));

// title with superscript mass numbers; parts are [text, isSuperscript]
function isoLabel(sel, parts, size) {
    let up = false;
    parts.forEach(function (p) {
        const dy = p[1] === up ? 0 : (p[1] ? -size * 0.34 : size * 0.34);
        up = p[1];
        sel.append("tspan")
            .attr("font-size", p[1] ? size * 0.6 : size)
            .attr("dy", dy)
            .text(p[0]);
    });
}

function drawPanel(cfg) {
    const x = d3.scaleLinear().domain([16, 23]).range(cfg.xRange);
    const y = d3.scaleLinear().domain(cfg.yDomain).range(cfg.yRange);
    const g = svg.append("g");

    // field
    const line = d3.line().x(d => x(d[0])).y(d => y(d[1])).curve(d3.curveCardinalClosed.tension(0.3));
    g.append("path").datum(cfg.field).attr("d", line)
        .attr("fill", FIELD).attr("stroke", "#000").attr("stroke-width", 2.2)
        .attr("stroke-dasharray", "62 3");

    // points
    [[cfg.oib, OIB, 3.1], [cfg.morb, MORB, 3.1], [cfg.ice, ICE, 4.6]].forEach(function (s) {
        g.append("g").selectAll("circle").data(toPoints(s[0])).enter().append("circle")
            .attr("cx", d => x(d[0])).attr("cy", d => y(d[1])).attr("r", s[2]).attr("fill", s[1]);
    });

    // ticks on all four sides
    const [x0, x1] = cfg.xRange, [y0, y1] = cfg.yRange;
    function side(axisFn, scale, tx, ty, major, minor) {
        g.append("g").attr("transform", `translate(${tx},${ty})`)
            .call(axisFn(scale).tickValues(major).tickSize(17).tickFormat(""));
        g.append("g").attr("class", "minor").attr("transform", `translate(${tx},${ty})`)
            .call(axisFn(scale).tickValues(minor).tickSize(8).tickFormat(""))
            .select(".domain").remove();
    }
    side(d3.axisBottom, x, 0, y1, xMajor, xMinor);
    side(d3.axisTop, x, 0, y0, xMajor, xMinor);
    side(d3.axisRight, y, x0, 0, cfg.yMajor, cfg.yMinor);
    side(d3.axisLeft, y, x1, 0, cfg.yRightMajor, cfg.yRightMinor);
    g.selectAll("path.domain").attr("stroke", AXIS).attr("stroke-width", 1.7).attr("fill", "none");
    g.selectAll(".tick line").attr("stroke", AXIS).attr("stroke-width", 1.2);

    // tick labels
    g.append("g").selectAll("text").data(xMajor).enter().append("text")
        .attr("x", d => x(d)).attr("y", y0 + 29).attr("text-anchor", "middle")
        .attr("font-size", 21).attr("fill", "#222").text(d => d);
    g.append("g").selectAll("text").data(cfg.yLabels).enter().append("text")
        .attr("x", x0 - 9).attr("y", d => y(d) + 7.5).attr("text-anchor", "end")
        .attr("font-size", 23).attr("fill", "#222").text(d => d);

    // arrow
    const arrow = cfg.arrow.map(d => [x(d[0]), y(d[1])]);
    g.append("path")
        .attr("d", `M${arrow[0]}Q${arrow[1]} ${arrow[2]}`)
        .attr("fill", "none").attr("stroke", "#000").attr("stroke-width", 2.6)
        .attr("marker-end", "url(#head)");

    cfg.tags.forEach(function (t) {
        g.append("text").attr("class", "tag").attr("x", t[1]).attr("y", t[2])
            .attr("font-size", t[3]).text(t[0]);
    });

    // axis titles
    isoLabel(g.append("text").attr("x", cfg.xTitle[0]).attr("y", cfg.xTitle[1]).attr("fill", "#111")
        .attr("letter-spacing", cfg.xTitle[3]),
        [["206", true], ["Pb", false], ["/", false], ["204", true], ["Pb", false]], cfg.xTitle[2]);
    isoLabel(g.append("text").attr("transform", `translate(${cfg.yTitle[0]},${cfg.yTitle[1]}) rotate(-90)`).attr("fill", "#111"),
        cfg.yParts, 40);
}

svg.append("defs").append("marker").attr("id", "head")
    .attr("viewBox", "0 0 10 10").attr("refX", 8).attr("refY", 5)
    .attr("markerWidth", 5).attr("markerHeight", 5).attr("orient", "auto")
    .append("path").attr("d", "M0,0L10,5L0,10L2.5,5Z").attr("fill", "#000");

drawPanel({
    xRange: [117.5, 807], yRange: [474, 20.5], yDomain: [0.702, 0.71],
    oib: oibSr, morb: morbSr, ice: iceSr, field: fieldSr, arrow: arrowSr,
    yMajor: srMajor, yMinor: srMinor, yRightMajor: srMajor, yRightMinor: srMinor,
    yLabels: srMajor,
    xTitle: [377, 546, 40, 0], yTitle: [46, 313],
    yParts: [["87", true], ["Sr", false], ["/", false], ["86", true], ["Sr", false]],
    tags: [["EM", 376, 135, 27], ["DM", 184, 440, 27], ["HIMU", 657, 402, 27], ["PREMA/FOZO", 533, 320, 27], ["a", 764, 452, 36]]
});

drawPanel({
    xRange: [123.5, 812.3], yRange: [1017, 563.5], yDomain: [0.5122, 0.5134],
    oib: oibNd, morb: morbNd, ice: iceNd, field: fieldNd, arrow: arrowNd,
    yMajor: ndMajor, yMinor: ndMinor, yRightMajor: ndRight, yRightMinor: [],
    yLabels: ndLabels,
    xTitle: [385, 1080, 37, 1.2], yTitle: [40, 878],
    yParts: [["143", true], ["Nd", false], ["/", false], ["144", true], ["Nd", false]],
    tags: [["DM", 202, 611, 27], ["PREMA/FOZO", 526, 646, 27], ["HIMU", 637, 822, 27], ["EM", 369, 968, 27], ["b", 768, 1000, 38]]
});

// legend
const legend = svg.append("g");
legend.append("rect").attr("x", 544.5).attr("y", 47).attr("width", 216).attr("height", 106)
    .attr("rx", 13).attr("fill", "#fff").attr("stroke", "#555").attr("stroke-width", 1);
const legendY = d3.scalePoint().domain(legendNames).range([70.5, 130.5]);
const legendColor = d3.scaleOrdinal().domain(legendNames).range([MORB, OIB, ICE]);
legendNames.forEach(function (n) {
    legend.append("circle").attr("cx", 576.5).attr("cy", legendY(n)).attr("r", 9).attr("fill", legendColor(n));
    legend.append("text").attr("x", 609).attr("y", legendY(n) + 7).attr("font-size", 22).attr("fill", "#222").text(n);
});
</script>
</body>
</html>
